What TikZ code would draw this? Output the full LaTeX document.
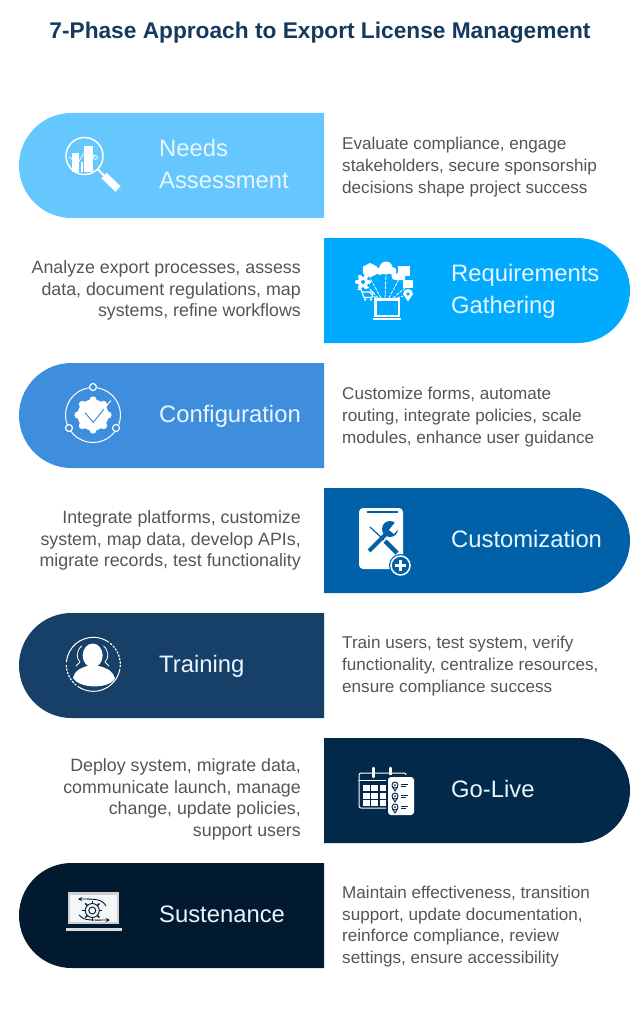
\documentclass[tikz,border=0pt]{standalone}
\usepackage{fontspec}
\setmainfont{Liberation Sans}
\usetikzlibrary{positioning}
\usetikzlibrary{shapes.misc}
\usetikzlibrary{arrows.meta}
\definecolor{barneeds}{HTML}{66C7FF}
\definecolor{barreq}{HTML}{00AAFF}
\definecolor{barconf}{HTML}{3F8EDD}
\definecolor{barcust}{HTML}{0060A8}
\definecolor{bartrain}{HTML}{174069}
\definecolor{barlive}{HTML}{03294A}
\definecolor{barsust}{HTML}{021A30}
\definecolor{titleblue}{HTML}{163A5E}
\definecolor{bodygrey}{HTML}{555555}
\definecolor{labelwhite}{HTML}{EAF6FF}

\begin{document}
\begin{tikzpicture}[x=1pt,y=-1pt,>=stealth,node distance=20pt]
\tikzstyle{barleft}=[rounded rectangle,rounded rectangle east arc=none,draw=none,inner sep=0pt,outer sep=0pt,
minimum width=305pt,minimum height=105pt]
\tikzstyle{barright}=[rounded rectangle,rounded rectangle west arc=none,draw=none,inner sep=0pt,outer sep=0pt,
minimum width=306pt,minimum height=105pt]
\tikzstyle{phase}=[anchor=west,inner sep=0pt,align=left,text=labelwhite,font=\fontsize{23.8}{32}\selectfont]
\tikzstyle{descr}=[inner sep=0pt,text=bodygrey,align=left,font=\fontsize{17.1}{21.7}\selectfont]
\tikzstyle{descl}=[inner sep=0pt,text=bodygrey,align=right,font=\fontsize{17.8}{21.6}\selectfont]
\tikzstyle{icon}=[white,line cap=round,line join=round]

\useasboundingbox (0,0) rectangle (644,1024);
\fill[white] (0,0) rectangle (644,1024);

\node[inner sep=0pt,text=titleblue,font=\fontsize{22.7}{28}\selectfont\bfseries] (title) at (320,32.5)
{7-Phase Approach to Export License Management};

% the bars
\node[barleft,fill=barneeds]  (needs) at (171.5,165.5) {};
\node[barright,fill=barreq]   (req)   [below right=20pt and 0pt of needs] {};
\node[barleft,fill=barconf]   (conf)  [below left=20pt and 0pt of req] {};
\node[barright,fill=barcust]  (cust)  [below right=20pt and 0pt of conf] {};
\node[barleft,fill=bartrain]  (train) [below left=20pt and 0pt of cust] {};
\node[barright,fill=barlive]  (live)  [below right=20pt and 0pt of train] {};
\node[barleft,fill=barsust]   (sust)  [below left=20pt and 0pt of live] {};

% phase names
\node[phase] (needslabel) at ([xshift=140pt,yshift=1.5pt]needs.west) {Needs\\Assessment};
\node[phase] (reqlabel)   at ([xshift=127pt,yshift=-1pt]req.west)    {Requirements\\Gathering};
\node[phase] (conflabel)  at ([xshift=140pt,yshift=-1pt]conf.west)   {Configuration};
\node[phase] (custlabel)  at ([xshift=127pt,yshift=1.5pt]cust.west)  {Customization};
\node[phase] (trainlabel) at ([xshift=140pt,yshift=-1pt]train.west)  {Training};
\node[phase] (livelabel)  at ([xshift=127pt,yshift=2pt]live.west)    {Go-Live};
\node[phase] (sustlabel)  at ([xshift=140pt,yshift=1pt]sust.west)    {Sustenance};

% descriptions
\node[descr,yshift=-1.5pt] (needstext) [right=18pt of needs] {Evaluate compliance, engage\\stakeholders, secure sponsorship\\decisions shape project success};
\node[descl]               (reqtext)   [left=23pt of req]    {Analyze export processes, assess\\data, document regulations, map\\systems, refine workflows};
\node[descr,yshift=-1.5pt] (conftext)  [right=18pt of conf]  {Customize forms, automate\\routing, integrate policies, scale\\modules, enhance user guidance};
\node[descl]               (custtext)  [left=23pt of cust]   {Integrate platforms, customize\\system, map data, develop APIs,\\migrate records, test functionality};
\node[descr,yshift=-.5pt]  (traintext) [right=18pt of train] {Train users, test system, verify\\functionality, centralize resources,\\ensure compliance success};
\node[descl,yshift=-9pt]   (livetext)  [left=23pt of live]   {Deploy system, migrate data,\\communicate launch, manage\\change, update policies,\\support users};
\node[descr,yshift=-11pt]  (susttext)  [right=18pt of sust]  {Maintain effectiveness, transition\\support, update documentation,\\reinforce compliance, review\\settings, ensure accessibility};

% needs icon
\draw[icon,line width=1.5pt] (84.5,156) circle (18.5pt);
\draw[white,line width=2pt] (97.5,169) -- (104,175.5);
\draw[white,line width=7.5pt] (104,175.5) -- (118,189);
\fill[white] (72,153) rectangle (79,172);
\fill[white] (81,162) rectangle (83,172);
\fill[white] (84,146) rectangle (93,172);
\draw[icon,line width=.7pt] (69,157) -- (78,163) -- (87,148) -- (95,157);
\draw[icon,line width=.7pt,fill=barneeds] (95.5,157.5) circle (2pt);

% requirements icon
\fill[white] (374,298) rectangle (400,317);
\fill[barreq] (376.5,301) rectangle (397.5,315);
\fill[white] (373,317.5) rectangle (401,319.5);
\foreach \ex/\ey/\sx in {370/278/381,386/275/385,400/277/389,368/287/378,405/288/393,370/293/376,403/296/397}
  \draw[icon,line width=.8pt,dash pattern=on 3pt off 1.5pt] (\sx,298) -- (\ex,\ey);
\fill[white] (370,263) -- (377,266.5) -- (377,274) -- (370,277.5) -- (363,274) -- (363,266.5) -- cycle;
\fill[white] (380,271) circle (4pt) (386,268) circle (6.5pt) (392.5,271) circle (4pt);
\fill[white] (398,266) rectangle (410,276);
\fill[white] (395,276.5) circle (3.5pt) (401,275.5) circle (4.5pt) (396,276) rectangle (405,280);
\foreach \a in {0,60,...,300} \fill[white] (363,282) ++(\a:6pt) circle (2pt);
\fill[white] (363,282) circle (5.5pt);
\fill[barreq] (363,282) circle (2pt);
\fill[white] (403,280) rectangle (413,288);
\draw[icon,line width=1.2pt] (358,289.5) -- (361,289.5) -- (364,297.5) -- (372,297.5) -- (373,292) -- (362,292);
\fill[white] (365,299.5) circle (1.4pt) (371,299.5) circle (1.4pt);
\fill[white] (403,294) arc[start angle=180,end angle=0,radius=5pt] -- (408,301.5) -- cycle;
\fill[barreq] (408,294) circle (1.8pt);

% configuration icon
\draw[icon,line width=1pt] (93,415) circle (27.5pt);
\foreach \px/\py in {93/387,69/428,116/428}
  \draw[icon,line width=1.2pt,fill=barconf] (\px,\py) circle (3.5pt);
\fill[white] (93,415) circle (15.5pt);
\foreach \a in {0,45,...,315} \fill[white] (93,415) ++(\a:15pt) circle (3.6pt);
\draw[icon,line width=1pt] (104,409) -- (110.7,400.7);
\draw[line width=1pt,draw=barconf] (85,412.7) -- (93.3,422.3) -- (104,409);

% customization icon
\fill[white,rounded corners=4pt] (359,508) rectangle (403,569);
\fill[barcust] (367,510.5) rectangle (398,513);
\draw[barcust,line width=1.2pt] (370,527) -- (384,540);
\draw[barcust,line width=4.5pt] (385,541) -- (397,553);
\draw[barcust,line width=4pt] (369,551) -- (386,534);
\fill[barcust] (390,529) circle (8pt);
\fill[white] (393,525) -- (389,530) -- (394,534) -- (400,527) -- (396,521) -- cycle;
\fill[barcust] (400.5,565.5) circle (11.5pt);
\draw[white,line width=1.5pt] (400.5,565.5) circle (9.5pt);
\draw[white,line width=2.5pt] (395,565.5) -- (406,565.5) (400.5,560) -- (400.5,571);

% training icon
\draw[icon,line width=1pt] (93.3,664.3) ++(175:27pt) arc[start angle=175,end angle=55,radius=27pt];
\draw[icon,line width=1pt] (93.3,664.3) ++(-10:27pt) arc[start angle=-10,end angle=-125,radius=27pt];
\draw[icon,line width=1.2pt,dash pattern=on 1.5pt off 2pt] (93.3,664.3) ++(50:27pt) arc[start angle=50,end angle=-8,radius=27pt];
\draw[icon,line width=1.2pt,dash pattern=on 1.5pt off 2pt] (93.3,664.3) ++(-130:27pt) arc[start angle=-130,end angle=-180,radius=27pt];
\fill[white] (92.7,655.5) ellipse (10pt and 12pt);
\fill[white] (73,678) .. controls (75,670) and (81,668) .. (87,666) -- (99,666)
  .. controls (106,668) and (113,670) .. (115,679) .. controls (108,689) and (80,689) .. (73,678) -- cycle;
\draw[icon,line width=.8pt] (81.7,646) .. controls (76,651) and (76,658) .. (80,662) -- (76,666);
\draw[icon,line width=.8pt] (103.7,646) .. controls (109,651) and (109,658) .. (105,662) -- (109,666);

% go-live icon
\draw[icon,line width=1pt,rounded corners=2pt] (406,778) -- (406,773) -- (359,773) -- (359,808) -- (388,808);
\draw[icon,line width=1pt] (359,780) -- (388,780);
\draw[icon,line width=2.5pt] (373.3,768) -- (373.3,777) (390.7,768) -- (390.7,777);
\foreach \cx in {363,371,380}
  \foreach \cy in {785,793,800}
    \fill[white] (\cx,\cy) rectangle ++(6.5,6);
\fill[barlive,rounded corners=3pt] (386,775) rectangle (416,817);
\fill[white,rounded corners=3pt] (388,777) rectangle (414,815);
\foreach \py in {785,796,807} {
  \draw[barlive,line width=.9pt] (395,\py) circle (3pt);
  \fill[barlive] (395,\py) circle (1pt);
  \draw[barlive,line width=.9pt] (392.5,\py+2) -- (395,\py+6) -- (397.5,\py+2);
  \draw[barlive,line width=1pt] (401,\py-1) -- (408,\py-1) (401,\py+1.5) -- (406,\py+1.5);
}

% sustenance icon
\fill[white!80!barsust] (68,892) rectangle (119,924);
\fill[white!96!barsust] (70,895) rectangle (117,922);
\fill[white!85!barsust] (66,928) rectangle (122,931);
\foreach \a in {0,45,...,315} \draw[barsust,line width=1.4pt] (92.3,910.5) ++(\a:7pt) -- ++(\a:3pt);
\draw[barsust,line width=.9pt] (92.3,910.5) circle (7pt) (92.3,910.5) circle (3.5pt);
\draw[barsust,line width=.9pt,->] (106,906) .. controls (102,899) and (96,899) .. (78,899);
\draw[barsust,line width=.9pt,->] (79,915) .. controls (83,921) and (92,920) .. (110,920);
\end{tikzpicture}
\end{document}
